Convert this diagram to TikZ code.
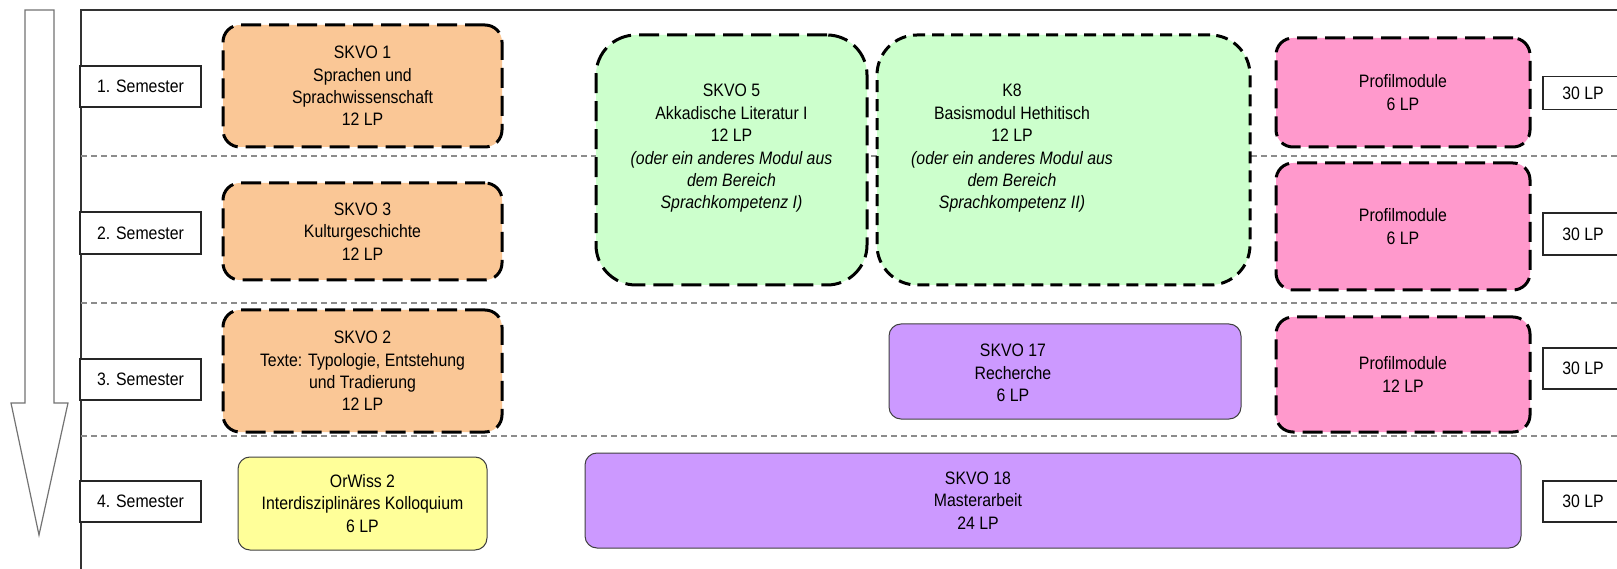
\documentclass[tikz,border=0pt]{standalone}
\usepackage{fontspec}
\setmainfont{Liberation Sans}[FakeStretch=0.88]
\definecolor{orangefill}{RGB}{250,199,150}
\definecolor{greenfill}{RGB}{204,255,204}
\definecolor{pinkfill}{RGB}{255,153,204}
\definecolor{purplefill}{RGB}{204,153,255}
\definecolor{yellowfill}{RGB}{255,255,153}
\tikzset{
  txt/.style={font=\fontsize{18}{22.4}\selectfont, align=center, inner sep=0pt},
  dashbox/.style={draw=black, line width=3pt, dash pattern=on 20pt off 8pt, rounded corners=17pt, inner sep=0pt, txt},
  orangebox/.style={dashbox, fill=orangefill},
  pinkbox/.style={dashbox, fill=pinkfill},
  greenbox/.style={dashbox, fill=greenfill, rounded corners=40pt},
  solidbox/.style={draw=black!75, line width=1pt, rounded corners=12pt, inner sep=0pt, txt},
  sembox/.style={draw=black!85, line width=1.3pt, fill=white, inner sep=0pt, txt},
  sep/.style={draw=black!45, line width=1.2pt, dash pattern=on 6pt off 4pt},
  frameline/.style={draw=black!80, line width=1.5pt},
  bigarrow/.style={draw=black!55, line width=1.2pt}
}
\begin{document}
\begin{tikzpicture}[x=1pt,y=-1pt]
\useasboundingbox (0,0) rectangle (1617,569);
\fill[white] (0,0) rectangle (1617,569);

% big down arrow
\draw[bigarrow] (25,10) -- (54,10) -- (54,403) -- (68,403) -- (39,535) -- (11,403) -- (25,403) -- cycle;

% frame
\draw[frameline] (81,569) -- (81,10) -- (1617,10);

% separators
\draw[sep] (81,156) -- (1617,156);
\draw[sep] (81,303) -- (1617,303);
\draw[sep] (81,436) -- (1617,436);

% semester labels
\node[sembox, minimum width=121pt, minimum height=41pt] (s1) at (140.5,86.5) {1. Semester};
\node[sembox, minimum width=121pt, minimum height=42pt] (s2) at (140.5,233) {2. Semester};
\node[sembox, minimum width=121pt, minimum height=41pt] (s3) at (140.5,379.5) {3. Semester};
\node[sembox, minimum width=121pt, minimum height=41pt] (s4) at (140.5,501.5) {4. Semester};

% LP labels
\node[sembox, minimum width=80pt, minimum height=33pt] (lp1) at (1583,93) {30 LP};
\node[sembox, minimum width=80pt, minimum height=42pt] (lp2) at (1583,234) {30 LP};
\node[sembox, minimum width=80pt, minimum height=41pt] (lp3) at (1583,368.5) {30 LP};
\node[sembox, minimum width=80pt, minimum height=41pt] (lp4) at (1583,501.5) {30 LP};

% orange modules
\node[orangebox, minimum width=279pt, minimum height=122pt] (skvo1) at (362.5,86) {SKVO 1\\Sprachen und\\Sprachwissenschaft\\12 LP};
\node[orangebox, minimum width=279pt, minimum height=97pt] (skvo3) at (362.5,231.5) {SKVO 3\\Kulturgeschichte\\12 LP};
\node[orangebox, minimum width=279pt, minimum height=122pt] (skvo2) at (362.5,371) {SKVO 2\\Texte: Typologie, Entstehung\\und Tradierung\\12 LP};

% green modules
\node[greenbox, minimum width=271pt, minimum height=250pt] (skvo5) at (731.5,160) {};
\node[txt] (skvo5t) at (731.5,148.5) {SKVO 5\\Akkadische Literatur I\\12 LP\\\textit{(oder ein anderes Modul aus}\\\textit{dem Bereich}\\\textit{Sprachkompetenz I)}};
\node[greenbox, dash pattern=on 12pt off 7pt, minimum width=373pt, minimum height=250pt] (k8) at (1063.5,160) {};
\node[txt] (k8t) at (1012,148.5) {K8\\Basismodul Hethitisch\\12 LP\\\textit{(oder ein anderes Modul aus}\\\textit{dem Bereich}\\\textit{Sprachkompetenz II)}};

% pink modules
\node[pinkbox, minimum width=254pt, minimum height=109pt] (p1) at (1403,92.5) {Profilmodule\\6 LP};
\node[pinkbox, minimum width=254pt, minimum height=127pt] (p2) at (1403,226.5) {Profilmodule\\6 LP};
\node[pinkbox, minimum width=254pt, minimum height=115pt] (p3) at (1403,374.5) {Profilmodule\\12 LP};

% purple and yellow modules
\node[solidbox, fill=purplefill, minimum width=352pt, minimum height=95pt] (skvo17) at (1065,371.5) {};
\node[txt] (skvo17t) at (1013,373) {SKVO 17\\Recherche\\6 LP};
\node[solidbox, fill=purplefill, minimum width=936pt, minimum height=95pt] (skvo18) at (1053,500.5) {};
\node[txt] (skvo18t) at (978,500.5) {SKVO 18\\Masterarbeit\\24 LP};
\node[solidbox, fill=yellowfill, minimum width=249pt, minimum height=93pt] (orwiss) at (362.5,503.5) {OrWiss 2\\Interdisziplinäres Kolloquium\\6 LP};
\end{tikzpicture}
\end{document}
